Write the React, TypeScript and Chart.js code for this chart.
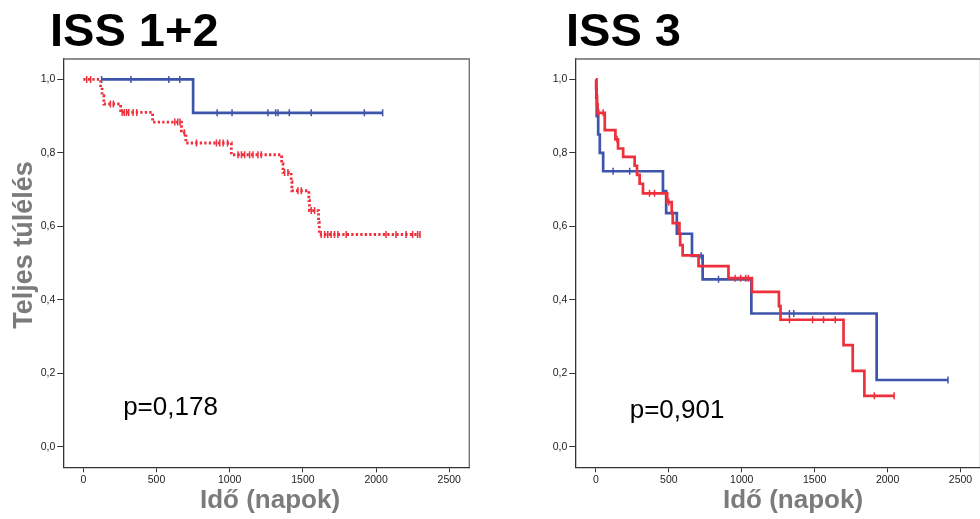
import React, { useEffect, useRef } from "react";
import { Chart, registerables } from "chart.js";

Chart.register(...registerables);

// ---------- tick labels ----------
const xTicks = [0, 500, 1000, 1500, 2000, 2500];
const yTicks = [0, 0.2, 0.4, 0.6, 0.8, 1.0];

// ---------- ISS 1+2 ----------
const iss12BlueStart = 125;
const iss12BlueEventDays = [750];
const iss12BlueSurvival = [0.909];
const iss12BlueCensorDays = [125, 325, 584, 659, 914, 1016, 1261, 1314, 1330, 1407, 1557, 1920, 2045];

const iss12RedStart = 0;
const iss12RedEventDays = [118, 128, 140, 255, 473, 670, 700, 1011, 1355, 1364, 1420, 1425, 1541, 1545, 1607, 1612];
const iss12RedSurvival = [0.978, 0.956, 0.933, 0.91, 0.884, 0.855, 0.827, 0.795, 0.771, 0.747, 0.722, 0.697, 0.67, 0.643, 0.611, 0.578];
const iss12RedCensorDays = [23, 50, 185, 205, 265, 280, 295, 310, 340, 365, 625, 645, 660, 690, 773, 909, 932, 955, 985,
  1057, 1080, 1102, 1136, 1159, 1193, 1216, 1375, 1398, 1466, 1489, 1557, 1580, 1625, 1648, 1670, 1693, 1716, 1739, 1796,
  2068, 2136, 2205, 2250, 2284, 2300];

// ---------- ISS 3 ----------
const iss3BlueStart = 0;
const iss3BlueEventDays = [3, 6, 16, 27, 50, 460, 482, 555, 659, 732, 1066, 1925];
const iss3BlueSurvival = [0.95, 0.9, 0.85, 0.8, 0.75, 0.696, 0.636, 0.58, 0.52, 0.456, 0.363, 0.182];
const iss3BlueCensorDays = [118, 232, 722, 841, 1327, 1357, 2414];

const iss3RedStart = 0;
const iss3RedEventDays = [2, 5, 8, 12, 61, 134, 152, 187, 266, 282, 300, 323, 489, 520, 527, 573, 578, 595, 704, 909, 1070, 1255, 1266, 1698, 1761, 1841];
const iss3RedSurvival = [0.977, 0.955, 0.932, 0.909, 0.862, 0.837, 0.812, 0.789, 0.765, 0.74, 0.716, 0.69, 0.666, 0.637, 0.609, 0.58, 0.549, 0.521, 0.492, 0.459, 0.422, 0.383, 0.346, 0.277, 0.207, 0.139];
const iss3RedCensorDays = [20, 50, 145, 368, 402, 500, 955, 993, 1027, 1045, 1327, 1486, 1561, 1641, 1909, 2045];

// ---------- texts ----------
const panelTitles = ["ISS 1+2", "ISS 3"];
const pValues = ["p=0,178", "p=0,901"];
const xTitle = "Idő (napok)";
const yTitle = "Teljes túlélés";

const BLUE = "#3f55ab";
const RED = "#ee2f3c";
const FONT = "'Liberation Sans', Arial, Helvetica, sans-serif";

type Curve = { start: number; days: number[]; surv: number[]; censor: number[] };

function survivalAt(c: Curve, d: number) {
  let s = 1;
  for (let i = 0; i < c.days.length; i++) if (c.days[i] <= d) s = c.surv[i];
  return s;
}

function lineData(c: Curve) {
  const pts = [{ x: c.start, y: 1 }];
  c.days.forEach((d, i) => pts.push({ x: d, y: c.surv[i] }));
  const last = Math.max(...c.censor, ...c.days);
  pts.push({ x: last, y: survivalAt(c, last) });
  return pts;
}

function censorData(c: Curve) {
  return c.censor.map((d) => ({ x: d, y: survivalAt(c, d) }));
}

type PanelSpec = {
  title: string;
  p: string;
  pPos: [number, number];
  blue: Curve;
  red: Curve;
  redDotted: boolean;
  xMin: number;
  xMax: number;
  yAxisWidth: number;
  padRight: number;
  canvasWidth: number;
  titleX: number;
  xTitleX: number;
  showYTitle: boolean;
};

const textPlugin = {
  id: "panelTexts",
  afterDraw(chart: any) {
    const spec: PanelSpec = chart.options.plugins.panelTexts.spec;
    const ctx = chart.ctx;
    const ca = chart.chartArea;
    ctx.save();
    // frame top & right
    ctx.strokeStyle = "#6a6a6a";
    ctx.lineWidth = 1.3;
    ctx.beginPath();
    ctx.moveTo(ca.left, ca.top);
    ctx.lineTo(ca.right, ca.top);
    ctx.lineTo(ca.right, ca.bottom);
    ctx.stroke();
    // panel title
    ctx.fillStyle = "#000";
    ctx.font = `bold 47px ${FONT}`;
    ctx.textBaseline = "alphabetic";
    ctx.textAlign = "left";
    ctx.fillText(spec.title, spec.titleX, 46);
    // p value
    ctx.font = `26px ${FONT}`;
    const px = chart.scales.x.getPixelForValue(spec.pPos[0]);
    const py = chart.scales.y.getPixelForValue(spec.pPos[1]);
    ctx.fillText(spec.p, px, py);
    // x title
    ctx.fillStyle = "#7b7b7b";
    ctx.font = `bold 26px ${FONT}`;
    ctx.textAlign = "center";
    ctx.textBaseline = "middle";
    ctx.fillText(xTitle, spec.xTitleX, 501);
    if (spec.showYTitle) {
      ctx.font = `bold 27px ${FONT}`;
      ctx.translate(25, 245);
      ctx.rotate(-Math.PI / 2);
      ctx.fillText(yTitle, 0, 0);
    }
    ctx.restore();
  },
};

function makeConfig(spec: PanelSpec): any {
  const fmt = (v: number) => v.toFixed(1).replace(".", ",");
  const tickFont = { size: 10.5, family: FONT };
  return {
    type: "line",
    data: {
      datasets: [
        {
          type: "scatter",
          data: censorData(spec.red),
          pointStyle: "line",
          rotation: 90,
          pointRadius: 3.5,
          pointBorderColor: RED,
          pointBorderWidth: 1.5,
          showLine: false,
        },
        {
          data: lineData(spec.red),
          borderColor: RED,
          borderWidth: spec.redDotted ? 2.8 : 2.7,
          borderDash: spec.redDotted ? [2.3, 2.2] : [],
          stepped: "before",
          pointRadius: 0,
          fill: false,
        },
        {
          type: "scatter",
          data: censorData(spec.blue),
          pointStyle: "line",
          rotation: 90,
          pointRadius: 3.5,
          pointBorderColor: BLUE,
          pointBorderWidth: 1.5,
          showLine: false,
        },
        {
          data: lineData(spec.blue),
          borderColor: BLUE,
          borderWidth: 2.7,
          stepped: "before",
          pointRadius: 0,
          fill: false,
        },
      ],
    },
    options: {
      animation: false,
      responsive: false,
      devicePixelRatio: 1,
      events: [],
      layout: { padding: { left: 0, top: 59, right: spec.padRight, bottom: 0 } },
      plugins: {
        legend: { display: false },
        tooltip: { enabled: false },
        title: { display: false },
        panelTexts: { spec },
      },
      scales: {
        x: {
          type: "linear",
          min: spec.xMin,
          max: spec.xMax,
          afterBuildTicks: (s: any) => {
            s.ticks = xTicks.map((v) => ({ value: v }));
          },
          afterFit: (s: any) => {
            s.height = 51.7;
          },
          grid: { drawOnChartArea: false, tickLength: 5, color: "#333", lineWidth: 1 },
          border: { color: "#333", width: 1.3 },
          ticks: {
            padding: 2,
            autoSkip: false,
            maxRotation: 0,
            font: tickFont,
            color: "#222",
            callback: (v: number) => String(v),
          },
        },
        y: {
          type: "linear",
          min: -0.0555,
          max: 1.0555,
          afterBuildTicks: (s: any) => {
            s.ticks = yTicks.map((v) => ({ value: v }));
          },
          afterFit: (s: any) => {
            s.width = spec.yAxisWidth;
          },
          grid: { drawOnChartArea: false, tickLength: 6, color: "#333", lineWidth: 1 },
          border: { color: "#333", width: 1.3 },
          ticks: {
            padding: 2,
            autoSkip: false,
            font: tickFont,
            color: "#222",
            callback: (v: number) => fmt(v),
          },
        },
      },
    },
    plugins: [textPlugin],
  };
}

const panels: PanelSpec[] = [
  {
    title: panelTitles[0],
    p: pValues[0],
    pPos: [272, 0.086],
    blue: { start: iss12BlueStart, days: iss12BlueEventDays, surv: iss12BlueSurvival, censor: iss12BlueCensorDays },
    red: { start: iss12RedStart, days: iss12RedEventDays, surv: iss12RedSurvival, censor: iss12RedCensorDays },
    redDotted: true,
    xMin: -137,
    xMax: 2637,
    yAxisWidth: 63.3,
    padRight: 20.7,
    canvasWidth: 490,
    titleX: 50,
    xTitleX: 270,
    showYTitle: true,
  },
  {
    title: panelTitles[1],
    p: pValues[1],
    pPos: [232, 0.078],
    blue: { start: iss3BlueStart, days: iss3BlueEventDays, surv: iss3BlueSurvival, censor: iss3BlueCensorDays },
    red: { start: iss3RedStart, days: iss3RedEventDays, surv: iss3RedSurvival, censor: iss3RedCensorDays },
    redDotted: false,
    xMin: -141,
    xMax: 2637,
    yAxisWidth: 85.3,
    padRight: 19.5,
    canvasWidth: 510,
    titleX: 76,
    xTitleX: 303,
    showYTitle: false,
  },
];

function Panel({ spec, left }: { spec: PanelSpec; left: number }) {
  const ref = useRef<HTMLCanvasElement | null>(null);
  useEffect(() => {
    if (!ref.current) return;
    const chart = new Chart(ref.current, makeConfig(spec));
    return () => chart.destroy();
  }, [spec]);
  return (
    <canvas
      ref={ref}
      width={spec.canvasWidth}
      height={519}
      style={{ position: "absolute", left, top: 0, width: spec.canvasWidth, height: 519, display: "block" }}
    />
  );
}

export default function App() {
  return (
    <div
      style={{
        position: "fixed",
        left: 0,
        top: 0,
        width: 980,
        height: 519,
        overflow: "hidden",
        background: "#fff",
      }}
    >
      <Panel spec={panels[0]} left={0} />
      <Panel spec={panels[1]} left={490} />
    </div>
  );
}
